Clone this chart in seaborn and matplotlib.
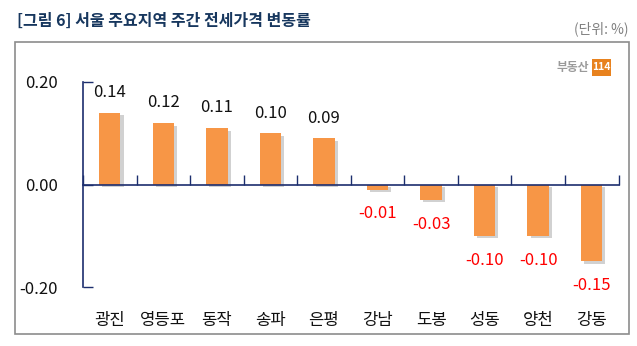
import matplotlib
matplotlib.use("Agg")
import matplotlib.pyplot as plt
import matplotlib.patheffects as pe
from matplotlib.patches import Rectangle
import seaborn as sns
import pandas as pd

categories = ["광진", "영등포", "동작", "송파", "은평", "강남", "도봉", "성동", "양천", "강동"]
values = [0.14, 0.12, 0.11, 0.10, 0.09, -0.01, -0.03, -0.10, -0.10, -0.15]
yticks = [-0.20, 0.00, 0.20]
title = "[그림 6] 서울 주요지역 주간 전세가격 변동률"
unit = "(단위: %)"

sns.set_style("white")
plt.rcParams["font.family"] = ["Noto Sans CJK KR", "DejaVu Sans"]

W, H = 637, 346
fig = plt.figure(figsize=(W / 100, H / 100), dpi=100)
ax = fig.add_axes([83 / W, 1 - 287 / H, (618.5 - 83) / W, (287 - 82) / H])

df = pd.DataFrame({"region": categories, "value": values})
sns.barplot(data=df, x="region", y="value", color="#F79646", width=0.4,
            saturation=1, ax=ax, order=categories)
for p in ax.patches:
    p.set_path_effects([pe.SimplePatchShadow(offset=(2.2, -1.8), shadow_rgbFace="#9A9A9A", alpha=0.45),
                        pe.Normal()])
    p.set_edgecolor("none")

navy = "#1C2E6E"
ax.set_xlim(-0.5, len(categories) - 0.5)
ax.set_ylim(-0.20, 0.20)
ax.set_yticks(yticks)
ax.set_yticklabels([f"{v:.2f}" for v in yticks], fontsize=12, color="#111111")
ax.tick_params(axis="y", direction="in", length=7, color=navy, width=1, pad=18, left=True)

ax.spines["bottom"].set_position(("data", 0))
for s in ["top", "right"]:
    ax.spines[s].set_visible(False)
ax.spines["bottom"].set_color(navy)
ax.spines["left"].set_color(navy)
ax.spines["bottom"].set_linewidth(1.2)
ax.spines["left"].set_linewidth(1.2)
ax.spines["bottom"].set_zorder(5)

ax.set_xticks(range(len(categories)))
ax.set_xticklabels(categories, fontsize=12, color="#111111")
ax.tick_params(axis="x", which="major", length=0, pad=92, bottom=True)
ax.set_xticks([i - 0.5 for i in range(len(categories) + 1)], minor=True)
ax.tick_params(axis="x", which="minor", direction="in", length=7, color=navy, width=1,
               bottom=True, top=False)
ax.set_xlabel("")
ax.set_ylabel("")

for i, v in enumerate(values):
    if v >= 0:
        ax.annotate(f"{v:.2f}", (i, v), xytext=(0, 14.5), textcoords="offset points",
                    ha="center", va="center", fontsize=12, color="#111111")
    else:
        ax.annotate(f"{v:.2f}", (i, v), xytext=(0, -17.5), textcoords="offset points",
                    ha="center", va="center", fontsize=12, color="#FF0000")

# Frame
fig.patches.append(Rectangle((15 / W, 1 - 334 / H), (629 - 15) / W, (334 - 42) / H,
                             transform=fig.transFigure, fill=False, edgecolor="#8C8C8C", lw=1.2))

fig.text(17 / W, 1 - 21 / H, title, fontsize=11.5, fontweight="bold", color="#17375E",
         ha="left", va="center")
fig.text(628 / W, 1 - 29 / H, unit, fontsize=10, color="#808080", ha="right", va="center")

# Logo
fig.text(589 / W, 1 - 67 / H, "부동산", fontsize=8.5, fontweight="bold", color="#9A9A9A",
         ha="right", va="center")
fig.patches.append(Rectangle((592 / W, 1 - 76 / H), 19 / W, 17 / H, transform=fig.transFigure,
                             facecolor="#E8821E", edgecolor="none"))
fig.text(601.5 / W, 1 - 67.5 / H, "114", fontsize=7.5, fontweight="bold", color="white",
         ha="center", va="center")

fig.savefig("out.png", dpi=100)
